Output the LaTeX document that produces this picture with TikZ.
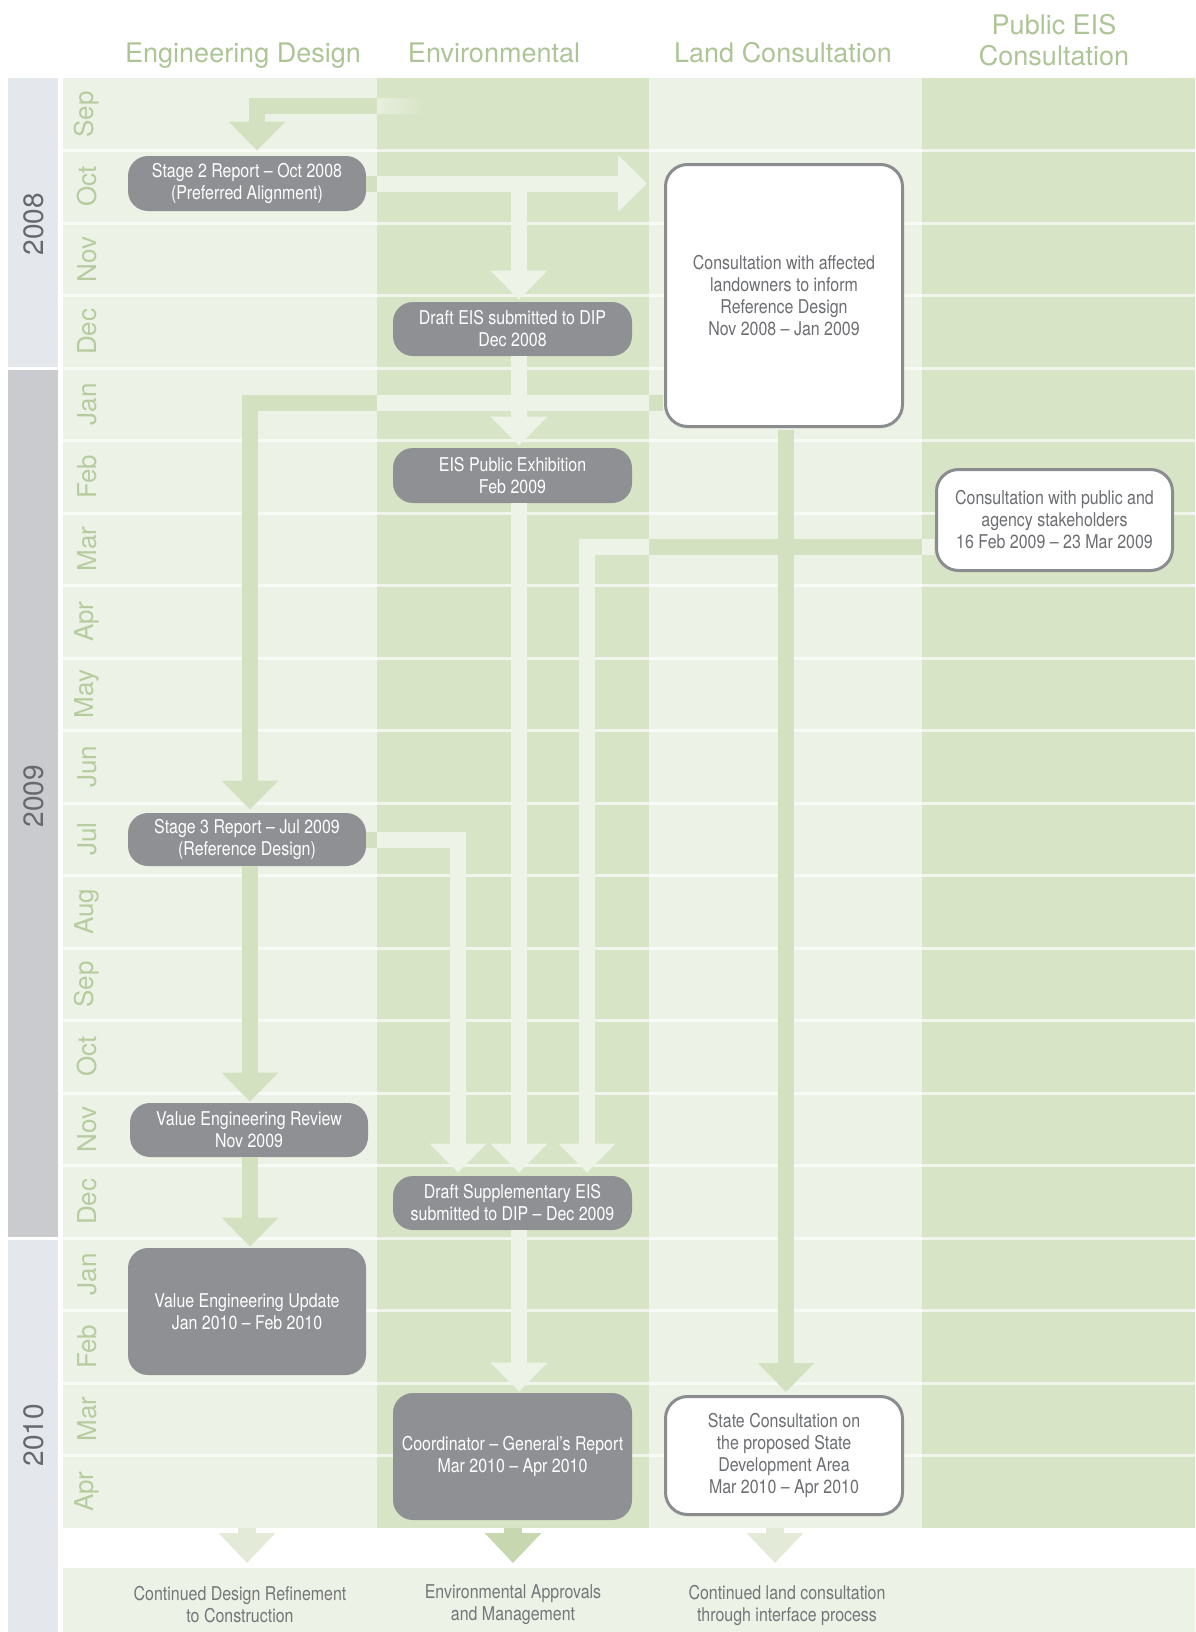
\documentclass[tikz,border=0pt]{standalone}
\usepackage{fontspec}
\setmainfont{TeX Gyre Heros}
\newfontfamily\condfont[FakeStretch=0.84]{TeX Gyre Heros}
\usetikzlibrary{arrows.meta}
\definecolor{lightcol}{HTML}{EDF2E6}
\definecolor{darkcol}{HTML}{D8E4C6}
\definecolor{arrdark}{HTML}{D4E1C0}
\definecolor{arrlight}{HTML}{EEF3E8}
\definecolor{yearlight}{HTML}{E4E7EB}
\definecolor{yeardark}{HTML}{C9CBCF}
\definecolor{boxgray}{HTML}{8E9094}
\definecolor{boxline}{HTML}{8A8C8F}
\definecolor{headcol}{HTML}{ADC596}
\definecolor{monthcol}{HTML}{B6CC9E}
\definecolor{yeartext}{HTML}{66686C}
\definecolor{txtgray}{HTML}{6C6E71}
\definecolor{bottxtcol}{HTML}{74767A}
\definecolor{botpale}{HTML}{E3EBD8}
\definecolor{botmid}{HTML}{C7D7B0}

\newcommand\flowarrows[1]{%
  \draw[arr,color=#1,shorten >=2.5pt] (topsrc) -| (xTop |- s2.north);
  \draw[arr,color=#1,shorten >=8.5pt] (s2.east) -- (lo.west |- s2.east);
  \draw[arr,color=#1,shorten >=1pt] (xEnv |- s2.east) -- (xEnv |- de.north);
  \draw[arr,color=#1,shorten >=1pt] (xEnv |- de.south) -- (xEnv |- ep.north);
  \draw[arr,color=#1,shorten >=1.5pt,shorten <=0.75pt] (lo.west |- yJan) -| (xE |- s3.north);
  \draw[arr,color=#1,shorten >=1.5pt,shorten <=0.75pt] (xL |- lo.south) -- (xL |- sc.north);
  \draw[arr,color=#1,shorten >=1.5pt,shorten <=0.75pt] (pc.west |- yMar) -| (xCc |- ds.north);
  \draw[arr,color=#1,shorten >=1.5pt] (s3.east) -| (xCa |- ds.north);
  \draw[arr,color=#1,shorten >=1.5pt] (xEnv |- ep.south) -- (xEnv |- ds.north);
  \draw[arr,color=#1,shorten >=0.5pt] (xE |- s3.south) -- (xE |- vr.north);
  \draw[arr,color=#1,shorten >=0.5pt] (xE |- vr.south) -- (xE |- vu.north);
  \draw[arr,color=#1,shorten >=0.5pt] (xEnv |- ds.south) -- (xEnv |- cg.north);
}

\begin{document}
\begin{tikzpicture}[x=0.5pt,y=-0.5pt,
  arr/.style={line width=8pt,-{Triangle[width=27.5pt,length=14.5pt]}},
  botarr/.style={line width=9pt,-{Triangle[width=27.5pt,length=15pt]}},
  gbox/.style={rectangle,rounded corners=10pt,fill=boxgray,text=white,
    font=\condfont\fontsize{9.5}{11}\selectfont,align=center,inner sep=0pt},
  wbox/.style={rectangle,rounded corners=11pt,fill=white,draw=boxline,line width=1.5pt,
    text=txtgray,font=\condfont\fontsize{9.5}{11}\selectfont,align=center,inner sep=0pt},
  month/.style={rotate=90,text=monthcol,font=\fontsize{13}{15}\selectfont,inner sep=0pt},
  yearlab/.style={rotate=90,text=yeartext,font=\fontsize{14}{16}\selectfont,inner sep=0pt},
  head/.style={text=headcol,font=\fontsize{13.5}{15.5}\selectfont,align=center,inner sep=0pt},
  bottxt/.style={text=bottxtcol,font=\condfont\fontsize{9.5}{11}\selectfont,align=center,inner sep=0pt},
  sepline/.style={white,opacity=0.65,line width=1.5pt}
]
\useasboundingbox (0,0) rectangle (1195,1632);
\fill[white] (0,0) rectangle (1195,1632);

% year bars
\fill[yearlight] (8,78) rectangle (58,367);
\fill[yeardark] (8,370) rectangle (58,1237);
\fill[yearlight] (8,1240) rectangle (58,1632);

% columns
\fill[lightcol] (63,78) rectangle (377,1528);
\fill[darkcol] (377,78) rectangle (649,1528);
\fill[lightcol] (649,78) rectangle (922,1528);
\fill[darkcol] (922,78) rectangle (1195,1528);
\fill[lightcol] (63,1568) rectangle (1195,1632);

% row separators
\foreach \i in {1,...,19}
  \draw[sepline] (63,{78+\i*72.5}) -- (1195,{78+\i*72.5});

% headers
\node[head,anchor=base] (hEng) at (243,63) {Engineering Design};
\node[head,anchor=base] (hEnv) at (494,63) {Environmental};
\node[head,anchor=base] (hLand) at (783,63) {Land Consultation};
\node[head] (hPub) at (1054,40) {Public EIS\\Consultation};

% years
\node[yearlab] (y2008) at (34,224) {2008};
\node[yearlab] (y2009) at (34,796) {2009};
\node[yearlab] (y2010) at (34,1435) {2010};

% months
\foreach \m [count=\i from 0] in {Sep,Oct,Nov,Dec,Jan,Feb,Mar,Apr,May,Jun,Jul,Aug,Sep,Oct,Nov,Dec,Jan,Feb,Mar,Apr}
  \node[month] (m\i) at (87,{78+(\i+0.5)*72.5}) {\m};

% boxes
\node[gbox,minimum width=119pt,minimum height=27.5pt] (s2) at (247,183.5) {Stage 2 Report – Oct 2008\\(Preferred Alignment)};
\node[gbox,minimum width=119.5pt,minimum height=27pt] (de) at (512.5,329) {Draft EIS submitted to DIP\\Dec 2008};
\node[gbox,minimum width=119.5pt,minimum height=27.5pt] (ep) at (512.5,475.5) {EIS Public Exhibition\\Feb 2009};
\node[gbox,minimum width=119pt,minimum height=26.5pt] (s3) at (247,839.5) {Stage 3 Report – Jul 2009\\(Reference Design)};
\node[gbox,minimum width=119pt,minimum height=27pt] (vr) at (249,1130) {Value Engineering Review\\Nov 2009};
\node[gbox,minimum width=119.5pt,minimum height=27pt] (ds) at (512.5,1203) {Draft Supplementary EIS\\submitted to DIP – Dec 2009};
\node[gbox,minimum width=119pt,minimum height=63.5pt] (vu) at (247,1311.5) {Value Engineering Update\\Jan 2010 – Feb 2010};
\node[gbox,minimum width=119.5pt,minimum height=63.5pt] (cg) at (512.5,1456.5) {Coordinator – General’s Report\\Mar 2010 – Apr 2010};
\node[wbox,minimum width=118.5pt,minimum height=131pt] (lo) at (784,295.5) {Consultation with affected\\landowners to inform\\Reference Design\\Nov 2008 – Jan 2009};
\node[wbox,minimum width=118pt,minimum height=50.5pt] (pc) at (1054.5,520) {Consultation with public and\\agency stakeholders\\16 Feb 2009 – 23 Mar 2009};
\node[wbox,minimum width=118.5pt,minimum height=59pt] (sc) at (784,1455.5) {State Consultation on\\the proposed State\\Development Area\\Mar 2010 – Apr 2010};

% bottom texts
\node[bottxt] (bt1) at (240,1605) {Continued Design Refinement\\to Construction};
\node[bottxt] (bt2) at (513,1605) {Environmental Approvals\\and Management};
\node[bottxt] (bt3) at (787,1605) {Continued land consultation\\through interface process};

% helper coordinates
\coordinate (xTop) at (257,0);
\coordinate (xE) at (250,0);
\coordinate (xEnv) at (519,0);
\coordinate (xL) at (786,0);
\coordinate (xCa) at (458,0);
\coordinate (xCc) at (587,0);
\coordinate (yJan) at (0,403);
\coordinate (yMar) at (0,546.5);
\coordinate (topsrc) at (377,106.5);

% arrows: darker over light columns, lighter over dark columns
\begin{scope}
  \clip (63,0) rectangle (377,1528) (649,0) rectangle (922,1528);
  \flowarrows{arrdark}
\end{scope}
\begin{scope}
  \clip (377,0) rectangle (649,1528) (922,0) rectangle (1195,1528);
  \flowarrows{arrlight}
\end{scope}
\shade[left color=arrlight!70!darkcol,right color=darkcol] (377,99) rectangle (424,114);

% bottom arrows
\coordinate (b1s) at (247,1528); \coordinate (b1e) at (247,1563);
\coordinate (b2s) at (513,1528); \coordinate (b2e) at (513,1563);
\coordinate (b3s) at (775,1528); \coordinate (b3e) at (775,1563);
\draw[botarr,color=botpale] (b1s) -- (b1e);
\draw[botarr,color=botmid] (b2s) -- (b2e);
\draw[botarr,color=botpale] (b3s) -- (b3e);
\end{tikzpicture}
\end{document}
